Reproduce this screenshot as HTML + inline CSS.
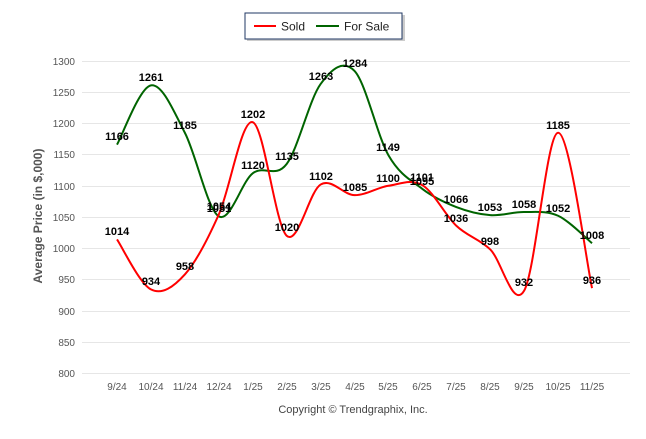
<!DOCTYPE html>
<html><head><meta charset="utf-8"><style>
body{margin:0;background:#fff;width:646px;height:434px;overflow:hidden;font-family:"Liberation Sans",sans-serif}
</style></head><body>
<svg id="s" width="646" height="434" xmlns="http://www.w3.org/2000/svg" font-family="Liberation Sans, sans-serif">
<rect x="247" y="15" width="158" height="26" fill="#999" opacity="0.5"/>
<rect x="245" y="13" width="157" height="26" fill="#fff" stroke="#1f3763" stroke-width="1"/>
<line x1="254" y1="26" x2="276" y2="26" stroke="#f00" stroke-width="2"/>
<text x="281" y="30.5" font-size="12" fill="#222">Sold</text>
<line x1="316" y1="26" x2="339" y2="26" stroke="#006400" stroke-width="2"/>
<text x="344" y="30.5" font-size="12" fill="#222">For Sale</text>
<g stroke="#e6e6e6" stroke-width="1">
<line x1="82" x2="630" y1="61.5" y2="61.5"/><line x1="82" x2="630" y1="92.5" y2="92.5"/>
<line x1="82" x2="630" y1="123.5" y2="123.5"/><line x1="82" x2="630" y1="154.5" y2="154.5"/>
<line x1="82" x2="630" y1="186.5" y2="186.5"/><line x1="82" x2="630" y1="217.5" y2="217.5"/>
<line x1="82" x2="630" y1="248.5" y2="248.5"/><line x1="82" x2="630" y1="279.5" y2="279.5"/>
<line x1="82" x2="630" y1="311.5" y2="311.5"/><line x1="82" x2="630" y1="342.5" y2="342.5"/>
<line x1="82" x2="630" y1="373.5" y2="373.5"/>
</g>
<g font-size="10" fill="#555" text-anchor="end">
<text x="75" y="65">1300</text><text x="75" y="96">1250</text><text x="75" y="127">1200</text>
<text x="75" y="158">1150</text><text x="75" y="190">1100</text><text x="75" y="221">1050</text>
<text x="75" y="252">1000</text><text x="75" y="283">950</text><text x="75" y="315">900</text>
<text x="75" y="346">850</text><text x="75" y="377">800</text>
</g>
<g font-size="10" fill="#555" text-anchor="middle">
<text x="117" y="390">9/24</text><text x="151" y="390">10/24</text><text x="185" y="390">11/24</text>
<text x="219" y="390">12/24</text><text x="253" y="390">1/25</text><text x="287" y="390">2/25</text>
<text x="321" y="390">3/25</text><text x="355" y="390">4/25</text><text x="388" y="390">5/25</text>
<text x="422" y="390">6/25</text><text x="456" y="390">7/25</text><text x="490" y="390">8/25</text>
<text x="524" y="390">9/25</text><text x="558" y="390">10/25</text><text x="592" y="390">11/25</text>
</g>
<text x="353" y="413" font-size="11" fill="#444" text-anchor="middle">Copyright © Trendgraphix, Inc.</text>
<text transform="translate(42,216) rotate(-90)" font-size="12" font-weight="bold" fill="#555" text-anchor="middle">Average Price (in $,000)</text>
<path id="fs" fill="none" stroke="#006400" stroke-width="2"/>
<path id="sd" fill="none" stroke="#f00" stroke-width="2"/>
<g font-size="11" font-weight="bold" fill="#000" text-anchor="middle">
<text x="117" y="140">1166</text><text x="151" y="81">1261</text><text x="185" y="129">1185</text>
<text x="219" y="212">1051</text><text x="253" y="169">1120</text><text x="287" y="160">1135</text>
<text x="321" y="80">1263</text><text x="355" y="67">1284</text><text x="388" y="151">1149</text>
<text x="422" y="185">1095</text><text x="456" y="203">1066</text><text x="490" y="211">1053</text>
<text x="524" y="208">1058</text><text x="558" y="212">1052</text><text x="592" y="239">1008</text>
<text x="117" y="235">1014</text><text x="151" y="285">934</text><text x="185" y="270">958</text>
<text x="219" y="210">1054</text><text x="253" y="118">1202</text><text x="287" y="231">1020</text>
<text x="321" y="180">1102</text><text x="355" y="191">1085</text><text x="388" y="182">1100</text>
<text x="422" y="181">1101</text><text x="456" y="222">1036</text><text x="490" y="245">998</text>
<text x="524" y="286">932</text><text x="558" y="129">1185</text><text x="592" y="284">936</text>
</g>
</svg>
<script>
function path(v){var p=v.map(function(y,i){return[117+33.93*i,373-(y-800)*0.624]});
var d="M"+p[0][0]+","+p[0][1];
for(var i=0;i<p.length-1;i++){var p0=p[i-1]||p[i],p1=p[i],p2=p[i+1],p3=p[i+2]||p2,t=0.5/3*2;
var c1=[p1[0]+(p2[0]-p0[0])/6,p1[1]+(p2[1]-p0[1])/6],c2=[p2[0]-(p3[0]-p1[0])/6,p2[1]-(p3[1]-p1[1])/6];
d+=" C"+c1+" "+c2+" "+p2;}return d;}
document.getElementById("fs").setAttribute("d",path([1166,1261,1185,1051,1120,1135,1263,1284,1149,1095,1066,1053,1058,1052,1008]));
document.getElementById("sd").setAttribute("d",path([1014,934,958,1054,1202,1020,1102,1085,1100,1101,1036,998,932,1185,936]));
</script>
</body></html>
